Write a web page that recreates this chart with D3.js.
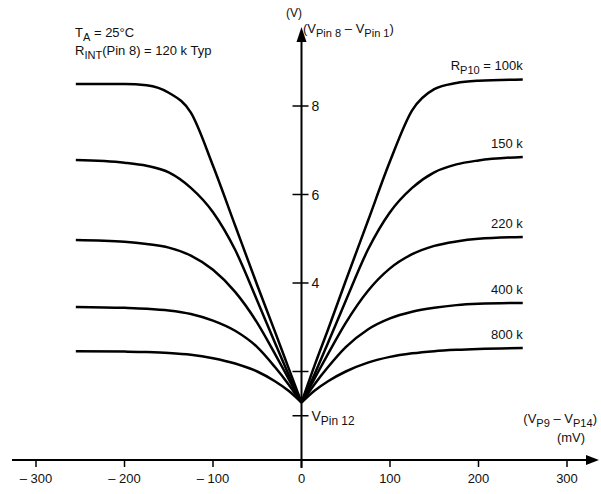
<!DOCTYPE html>
<html>
<head>
<meta charset="utf-8">
<script src="https://cdn.jsdelivr.net/npm/d3@7"></script>
<style>
  body { margin: 0; background: #fff; }
  text { font-family: "Liberation Sans Narrow", "Liberation Sans", Arial, sans-serif; fill: #111; }
</style>
</head>
<body>
<script>
var w = 601;
var h = 494;

// input difference (mV) at which each curve was read
var mV = [-255, -200, -175, -150, -125, -100, -75, -50, -30, -15, 0, 15, 30, 50, 75, 100, 125, 150, 175, 200, 250];

// output voltage (V) for each RP10
var r100 = [8.5, 8.5, 8.47, 8.3, 7.85, 6.65, 5.3, 3.95, 2.9, 2.1, 1.3, 2.15, 2.95, 4.05, 5.4, 6.75, 7.9, 8.38, 8.52, 8.57, 8.6];
var r150 = [6.78, 6.72, 6.65, 6.5, 6.15, 5.6, 4.75, 3.6, 2.65, 1.95, 1.3, 1.95, 2.65, 3.6, 4.75, 5.6, 6.15, 6.5, 6.68, 6.77, 6.85];
var r220 = [4.97, 4.93, 4.88, 4.8, 4.62, 4.3, 3.8, 3.1, 2.4, 1.85, 1.3, 1.85, 2.4, 3.1, 3.82, 4.33, 4.65, 4.84, 4.94, 5.0, 5.04];
var r400 = [3.46, 3.44, 3.42, 3.38, 3.3, 3.15, 2.92, 2.55, 2.1, 1.72, 1.3, 1.72, 2.1, 2.55, 2.95, 3.2, 3.35, 3.44, 3.5, 3.53, 3.55];
var r800 = [2.46, 2.45, 2.44, 2.42, 2.38, 2.3, 2.18, 2.0, 1.78, 1.57, 1.3, 1.57, 1.78, 2.0, 2.2, 2.33, 2.41, 2.46, 2.49, 2.51, 2.53];

var curveLabels = ["100k", "150 k", "220 k", "400 k", "800 k"];
var series = [r100, r150, r220, r400, r800];

var xTicks = [-300, -200, -100, 0, 100, 200, 300];
var xTickLabels = ["\u2013 300", "\u2013 200", "\u2013 100", "0", "100", "200", "300"];
var yTicks = [2, 4, 6, 8];
var yTickLabels = ["", "4", "6", "8"];
var vPin12 = 1.0;

var x = d3.scaleLinear().domain([-300, 300]).range([36, 567]);
var y = d3.scaleLinear().domain([0, 8]).range([460, 106]);

var svg = d3.select("body")
    .append("svg")
    .attr("width", w)
    .attr("height", h);

// text with subscripts: parts = [[text, isSub], ...]
function richText(g, parts, tx, ty, size, anchor) {
    var t = g.append("text")
        .attr("x", tx)
        .attr("y", ty)
        .attr("font-size", size)
        .attr("text-anchor", anchor || "start");
    var down = false;
    parts.forEach(function (p) {
        var s = t.append("tspan").text(p[0]);
        if (p[1] && !down) { s.attr("dy", 4).attr("font-size", size * 0.85); down = true; }
        else if (p[1]) { s.attr("font-size", size * 0.85); }
        else if (down) { s.attr("dy", -4); down = false; }
    });
    return t;
}

//-----axes-----
var x0 = x(0);
svg.append("line")
    .attr("x1", 12).attr("y1", y(0))
    .attr("x2", 590).attr("y2", y(0))
    .attr("stroke", "#000").attr("stroke-width", 2);
svg.append("path")
    .attr("d", "M599," + y(0) + " L586," + (y(0) - 5) + " L586," + (y(0) + 5) + " Z")
    .attr("fill", "#000");

svg.append("line")
    .attr("x1", x0).attr("y1", y(0) + 8)
    .attr("x2", x0).attr("y2", 40)
    .attr("stroke", "#000").attr("stroke-width", 2);
svg.append("path")
    .attr("d", "M" + x0 + ",27 L" + (x0 - 5) + ",42 L" + (x0 + 5) + ",42 Z")
    .attr("fill", "#000");

svg.selectAll(".xtick")
    .data(xTicks)
    .enter().append("line")
    .attr("x1", function (d) { return x(d); })
    .attr("x2", function (d) { return x(d); })
    .attr("y1", y(0))
    .attr("y2", y(0) + 7)
    .attr("stroke", "#000").attr("stroke-width", 1.5);

svg.selectAll(".xlab")
    .data(xTicks)
    .enter().append("text")
    .attr("x", function (d) { return x(d); })
    .attr("y", y(0) + 23)
    .attr("font-size", 13)
    .attr("text-anchor", "middle")
    .text(function (d, i) { return xTickLabels[i]; });

svg.selectAll(".ytick")
    .data(yTicks.concat([vPin12]))
    .enter().append("line")
    .attr("x1", x0 - 9)
    .attr("x2", x0 + 7)
    .attr("y1", function (d) { return y(d); })
    .attr("y2", function (d) { return y(d); })
    .attr("stroke", "#000").attr("stroke-width", 1.5);

svg.selectAll(".ylab")
    .data(yTicks)
    .enter().append("text")
    .attr("x", x0 + 10)
    .attr("y", function (d) { return y(d) + 5; })
    .attr("font-size", 14)
    .text(function (d, i) { return yTickLabels[i]; });

//-----curves-----
var line = d3.line()
    .x(function (d) { return x(d[0]); })
    .y(function (d) { return y(d[1]); })
    .curve(d3.curveMonotoneX);

var mid = mV.indexOf(0);
series.forEach(function (s, k) {
    var pts = mV.map(function (m, i) { return [m, s[i]]; });
    svg.append("path")
        .attr("d", line(pts.slice(0, mid + 1)))
        .attr("fill", "none").attr("stroke", "#000").attr("stroke-width", 2.5);
    svg.append("path")
        .attr("d", line(pts.slice(mid)))
        .attr("fill", "none").attr("stroke", "#000").attr("stroke-width", 2.5);
    if (k > 0) {
        svg.append("text")
            .attr("x", x(250))
            .attr("y", y(s[s.length - 1]) - 9)
            .attr("font-size", 13)
            .attr("text-anchor", "end")
            .text(curveLabels[k]);
    }
});
richText(svg, [["R", false], ["P10", true], [" = " + curveLabels[0], false]],
    x(250), y(r100[r100.length - 1]) - 9, 13, "end");

//-----text-----
richText(svg, [["T", false], ["A", true], [" = 25\u00b0C", false]], 75, 37, 13);
richText(svg, [["R", false], ["INT", true], ["(Pin 8) = 120 k Typ", false]], 75, 55, 13);

svg.append("text")
    .attr("x", 286).attr("y", 17)
    .attr("font-size", 12)
    .text("(V)");
richText(svg, [["(V", false], ["Pin 8", true], [" \u2013 V", false], ["Pin 1", true], [")", false]], 303, 33, 13);

richText(svg, [["V", false], ["Pin 12", true]], x0 + 10, y(vPin12) + 5, 14);

richText(svg, [["(V", false], ["P9", true], [" \u2013 V", false], ["P14", true], [")", false]], 597, 423, 13, "end");
svg.append("text")
    .attr("x", 571).attr("y", 442)
    .attr("font-size", 13)
    .attr("text-anchor", "middle")
    .text("(mV)");
</script>
</body>
</html>
